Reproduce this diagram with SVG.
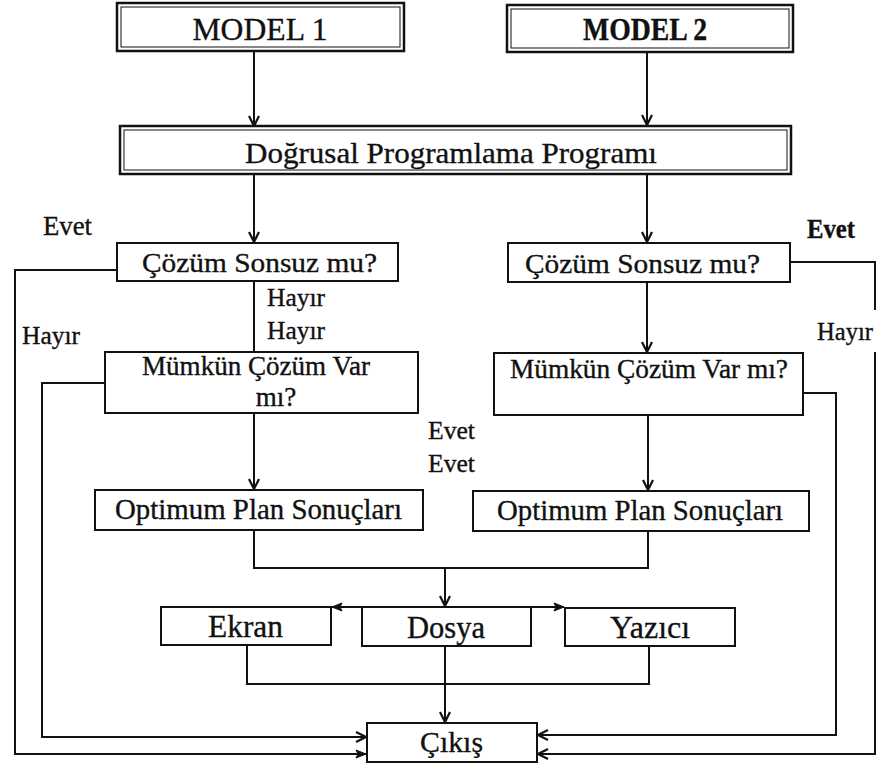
<svg xmlns="http://www.w3.org/2000/svg" width="881" height="764" viewBox="0 0 881 764">
<style>
.box{fill:#fff;stroke:#111;stroke-width:2}
.outer{fill:#fff;stroke:#111;stroke-width:2.5}
.inner{fill:none;stroke:#111;stroke-width:1}
.t{font-family:"Liberation Serif","Times New Roman",serif;fill:#111;stroke:#111;stroke-width:0.35;text-anchor:middle}
.l{font-family:"Liberation Serif","Times New Roman",serif;fill:#111;stroke:#111;stroke-width:0.35}
.c{fill:none;stroke:#111;stroke-width:2}
</style>
<defs>
<marker id="a" viewBox="0 0 12 12" refX="11" refY="6" markerWidth="12" markerHeight="12" markerUnits="userSpaceOnUse" orient="auto">
<path d="M1,1 L11,6 L1,11" fill="none" stroke="#111" stroke-width="2.2"/>
</marker>
<marker id="f" viewBox="0 0 12 12" refX="11" refY="6" markerWidth="12" markerHeight="12" markerUnits="userSpaceOnUse" orient="auto">
<path d="M1,2 L11,6 L1,10 L3,6 Z" fill="#111" stroke="#111" stroke-width="1"/>
</marker>
</defs>
<rect width="881" height="764" fill="#fff"/>
<g id="connectors">
<path class="c" d="M254,51 V126" marker-end="url(#a)"/>
<path class="c" d="M647,52 V125" marker-end="url(#a)"/>
<path class="c" d="M254,174 V242" marker-end="url(#a)"/>
<path class="c" d="M647,174 V242" marker-end="url(#a)"/>
<path class="c" d="M117,270 H15 V754 H366" marker-end="url(#f)"/>
<path class="c" d="M254,281 V352"/>
<path class="c" d="M105,383 H42 V737 H366" marker-end="url(#a)"/>
<path class="c" d="M790,262 H875 V310"/>
<path class="c" d="M875,352 V754 H538" marker-end="url(#a)"/>
<path class="c" d="M647,282 V352" marker-end="url(#a)"/>
<path class="c" d="M803,393 H836 V735 H538" marker-end="url(#a)"/>
<path class="c" d="M254,413 V489" marker-end="url(#a)"/>
<path class="c" d="M648,415 V490" marker-end="url(#a)"/>
<path class="c" d="M254,530 V568 H648 V531"/>
<path class="c" d="M445,568 V606" marker-end="url(#a)"/>
<path class="c" d="M362,607 H332" marker-end="url(#f)"/>
<path class="c" d="M531,607 H564" marker-end="url(#f)"/>
<path class="c" d="M247,645 V684 H649 V646"/>
<path class="c" d="M445,646 V722" marker-end="url(#a)"/>
</g>
<g id="model1">
<rect class="outer" x="117" y="3" width="287" height="48"/>
<rect class="inner" x="121" y="7" width="279" height="40"/>
<text class="t" x="260" y="40" font-size="31" textLength="135" lengthAdjust="spacingAndGlyphs">MODEL 1</text>
</g>
<g id="model2">
<rect class="outer" x="507" y="5" width="286" height="47"/>
<rect class="inner" x="511" y="9" width="278" height="39"/>
<text class="t" x="645" y="40" font-size="31" font-weight="bold" textLength="124" lengthAdjust="spacingAndGlyphs">MODEL 2</text>
</g>
<g id="dp">
<rect class="outer" x="120" y="126" width="671" height="48"/>
<rect class="inner" x="124" y="130" width="663" height="40"/>
<text class="t" x="451" y="163" font-size="30" textLength="412" lengthAdjust="spacingAndGlyphs">Doğrusal Programlama Programı</text>
</g>
<g id="cozum1">
<rect class="box" x="117" y="243" width="281" height="38"/>
<text class="t" x="259.5" y="272" font-size="28" textLength="235" lengthAdjust="spacingAndGlyphs">Çözüm Sonsuz mu?</text>
</g>
<g id="cozum2">
<rect class="box" x="508" y="243" width="282" height="39"/>
<text class="t" x="642.5" y="273" font-size="28" textLength="235" lengthAdjust="spacingAndGlyphs">Çözüm Sonsuz mu?</text>
</g>
<g id="mumkun1">
<rect class="box" x="105" y="352" width="313" height="61"/>
<text class="t" x="256" y="375" font-size="27" textLength="228" lengthAdjust="spacingAndGlyphs">Mümkün Çözüm Var</text>
<text class="t" x="276" y="406" font-size="27">mı?</text>
</g>
<g id="mumkun2">
<rect class="box" x="494" y="353" width="309" height="62"/>
<text class="t" x="649" y="378" font-size="27" textLength="278" lengthAdjust="spacingAndGlyphs">Mümkün Çözüm Var mı?</text>
</g>
<g id="optimum1">
<rect class="box" x="95" y="490" width="328" height="40"/>
<text class="t" x="258.5" y="519" font-size="30" textLength="287" lengthAdjust="spacingAndGlyphs">Optimum Plan Sonuçları</text>
</g>
<g id="optimum2">
<rect class="box" x="473" y="491" width="336" height="40"/>
<text class="t" x="640" y="520" font-size="30" textLength="286" lengthAdjust="spacingAndGlyphs">Optimum Plan Sonuçları</text>
</g>
<g id="ekran">
<rect class="box" x="161" y="607" width="170" height="38"/>
<text class="t" x="245.5" y="637" font-size="31" textLength="75" lengthAdjust="spacingAndGlyphs">Ekran</text>
</g>
<g id="dosya">
<rect class="box" x="362" y="607" width="169" height="39"/>
<text class="t" x="446" y="638" font-size="31" textLength="78" lengthAdjust="spacingAndGlyphs">Dosya</text>
</g>
<g id="yazici">
<rect class="box" x="565" y="608" width="170" height="38"/>
<text class="t" x="650" y="638" font-size="31" textLength="80" lengthAdjust="spacingAndGlyphs">Yazıcı</text>
</g>
<g id="cikis">
<rect class="box" x="367" y="723" width="170" height="39"/>
<text class="t" x="451.5" y="752" font-size="30" textLength="63" lengthAdjust="spacingAndGlyphs">Çıkış</text>
</g>
<g id="labels">
<text class="l" x="43" y="235" font-size="27" textLength="49" lengthAdjust="spacingAndGlyphs">Evet</text>
<text class="l" x="807" y="238" font-size="27" font-weight="bold" textLength="48" lengthAdjust="spacingAndGlyphs">Evet</text>
<text class="l" x="267" y="306" font-size="26" textLength="58" lengthAdjust="spacingAndGlyphs">Hayır</text>
<text class="l" x="267" y="339" font-size="26" textLength="58" lengthAdjust="spacingAndGlyphs">Hayır</text>
<text class="l" x="22" y="344" font-size="26" textLength="58" lengthAdjust="spacingAndGlyphs">Hayır</text>
<text class="l" x="817" y="340" font-size="26" textLength="56" lengthAdjust="spacingAndGlyphs">Hayır</text>
<text class="l" x="428" y="439" font-size="26" textLength="47" lengthAdjust="spacingAndGlyphs">Evet</text>
<text class="l" x="428" y="472" font-size="26" textLength="47" lengthAdjust="spacingAndGlyphs">Evet</text>
</g>
</svg>
